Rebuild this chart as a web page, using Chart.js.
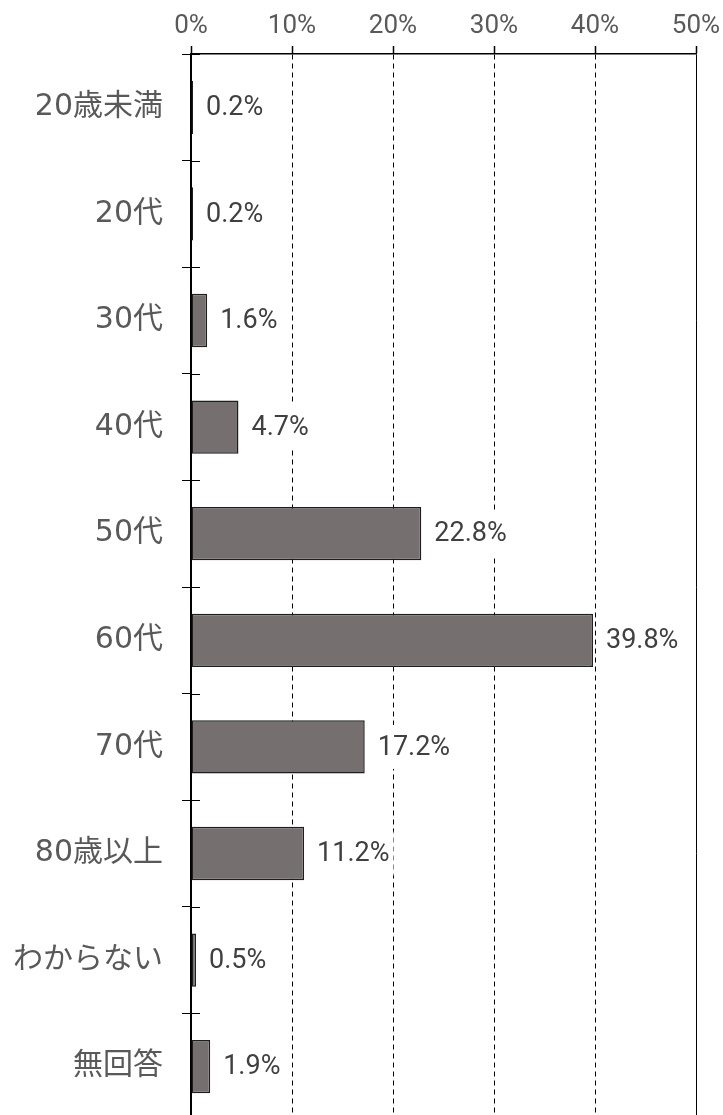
<!DOCTYPE html>
<html>
<head>
<meta charset="utf-8">
<script src="https://cdn.jsdelivr.net/npm/chart.js@4/dist/chart.umd.min.js"></script>
<style>
  html, body { margin: 0; padding: 0; background: #ffffff; overflow: hidden; }
  #wrap { position: relative; width: 723px; height: 1120px; }
</style>
</head>
<body>
<div id="wrap"><canvas id="c"></canvas></div>
<script>
const categories = ['20歳未満', '20代', '30代', '40代', '50代', '60代', '70代', '80歳以上', 'わからない', '無回答'];
const values = [0.2, 0.2, 1.6, 4.7, 22.8, 39.8, 17.2, 11.2, 0.5, 1.9];
const xTicks = [0, 10, 20, 30, 40, 50];

const LATIN = 'Roboto, "Noto Sans CJK JP", sans-serif';
const CATFONT = '"DejaVu Sans", "Noto Sans CJK JP", sans-serif';

const innerTicks = {
  id: 'innerTicks',
  afterDraw(chart) {
    const ys = chart.scales.y;
    const left = chart.chartArea.left;
    const ctx = chart.ctx;
    ctx.save();
    ctx.strokeStyle = '#000';
    ctx.lineWidth = 1;
    for (let i = 0; i <= categories.length; i++) {
      const p = Math.round(ys.getPixelForValue(i - 0.5)) + 0.5;
      ctx.beginPath();
      ctx.moveTo(left, p);
      ctx.lineTo(left + 9, p);
      ctx.stroke();
    }
    ctx.restore();
  }
};

const barLabels = {
  id: 'barLabels',
  afterDatasetsDraw(chart) {
    const ctx = chart.ctx;
    const meta = chart.getDatasetMeta(0);
    ctx.save();
    ctx.font = '27px ' + LATIN;
    ctx.textBaseline = 'middle';
    ctx.textAlign = 'left';
    meta.data.forEach((bar, i) => {
      const txt = values[i].toFixed(1) + '%';
      const x = bar.x + 13;
      const y = bar.y;
      const w = ctx.measureText(txt).width;
      ctx.fillStyle = '#ffffff';
      ctx.fillRect(x - 4, y - 22, w + 8, 44);
      ctx.fillStyle = '#404040';
      ctx.fillText(txt, x, y + 1);
    });
    ctx.restore();
  }
};

new Chart(document.getElementById('c'), {
  type: 'bar',
  data: {
    labels: categories,
    datasets: [{
      data: values,
      backgroundColor: '#75706f',
      borderColor: '#1e1e1e',
      borderWidth: 1.5,
      borderSkipped: false,
      barPercentage: 0.5,
      categoryPercentage: 1.0
    }]
  },
  options: {
    indexAxis: 'y',
    responsive: true,
    maintainAspectRatio: false,
    animation: false,
    layout: { padding: { top: 0, right: 27, bottom: 0, left: 0 } },
    plugins: { legend: { display: false }, tooltip: { enabled: false } },
    scales: {
      x: {
        position: 'top',
        min: 0,
        max: 50,
        afterBuildTicks(scale) { scale.ticks = xTicks.map(v => ({ value: v })); },
        afterFit(scale) { scale.height = 54; scale.paddingLeft = 0; scale.paddingRight = 0; },
        ticks: {
          callback: v => v + '%',
          color: '#595959',
          font: { family: LATIN, size: 26 },
          padding: 4,
          maxRotation: 0
        },
        grid: {
          color: '#000',
          lineWidth: 1,
          drawTicks: true,
          tickLength: 8,
          tickColor: '#000',
          tickWidth: 1.5
        },
        border: {
          display: true,
          color: '#000',
          width: 1.5,
          dash: ctx => (ctx.tick && (ctx.tick.value === 50)) ? [] : [5, 4]
        }
      },
      y: {
        position: 'left',
        afterFit(scale) { scale.width = 191; scale.paddingTop = 0; scale.paddingBottom = 0; },
        ticks: {
          color: '#595959',
          font: { family: CATFONT, size: 30 },
          padding: 19,
          autoSkip: false
        },
        grid: {
          offset: true,
          drawOnChartArea: false,
          drawTicks: true,
          tickLength: 9,
          tickColor: '#000',
          tickWidth: 1,
          color: '#000'
        },
        border: { display: true, color: '#000', width: 2 }
      }
    }
  },
  plugins: [innerTicks, barLabels]
});
</script>
</body>
</html>
